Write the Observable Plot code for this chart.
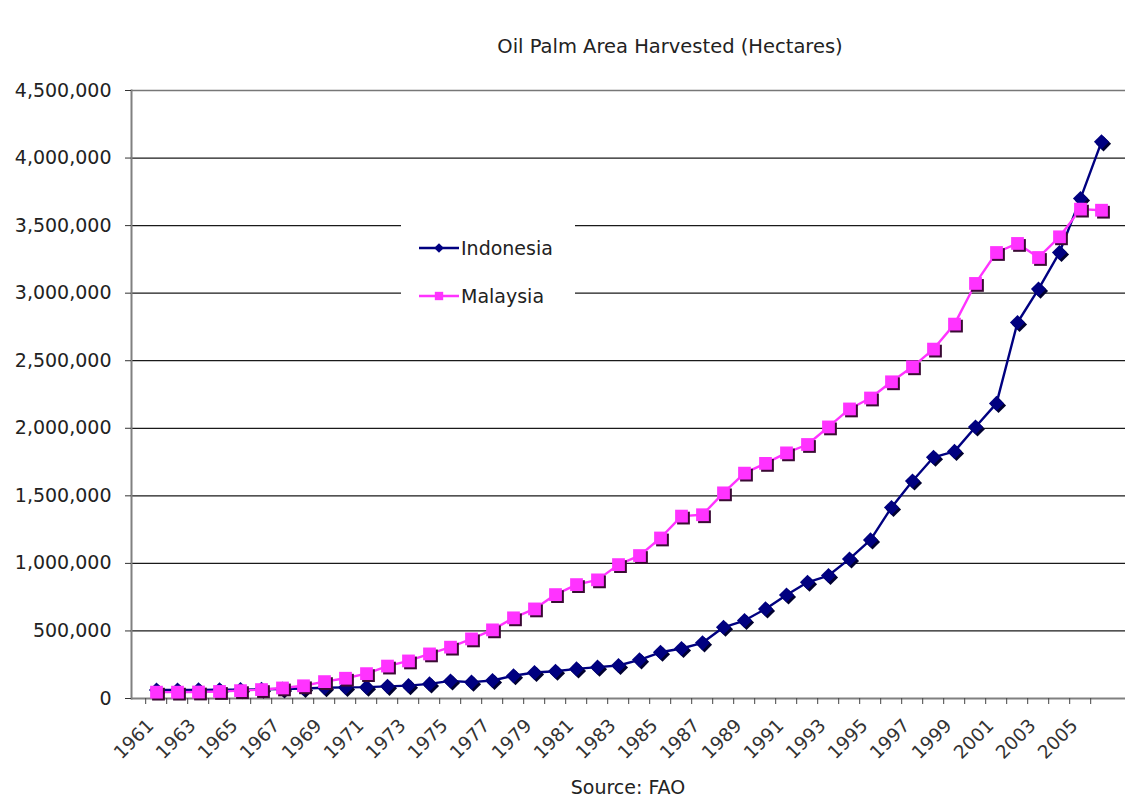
<!DOCTYPE html>
<html>
<head>
<meta charset="utf-8">
<script src="https://cdn.jsdelivr.net/npm/d3@7"></script>
<script src="https://cdn.jsdelivr.net/npm/@observablehq/plot@0.6"></script>
<style>
  body { margin: 0; background: #fff; font-family: "DejaVu Sans", Verdana, sans-serif; color: #222; }
  #page { position: relative; width: 1125px; height: 799px; overflow: hidden; }
  #title { box-sizing: border-box; width: 1125px; height: 70px; padding: 35px 0 0 215px; line-height: 24px; font-size: 19.5px; text-align: center; }
  #caption { box-sizing: border-box; width: 1125px; margin-top: 5px; padding-left: 131px; line-height: 24px; font-size: 19px; text-align: center; }
  #legend { position: absolute; left: 401px; top: 214px; width: 174px; height: 89px; background: #fff; font-size: 19px; }
  #legend .row { position: absolute; left: 18px; height: 24px; display: flex; align-items: center; }
  #legend svg { display: block; margin-right: 2px; }
</style>
</head>
<body>
<div id="page">
  <div id="title">Oil Palm Area Harvested (Hectares)</div>
  <div id="chart"></div>
  <div id="caption">Source: FAO</div>
  <div id="legend"></div>
</div>
<script>
// Oil palm area harvested, hectares per year
const years = [1961, 1962, 1963, 1964, 1965, 1966, 1967, 1968, 1969, 1970,
  1971, 1972, 1973, 1974, 1975, 1976, 1977, 1978, 1979, 1980,
  1981, 1982, 1983, 1984, 1985, 1986, 1987, 1988, 1989, 1990,
  1991, 1992, 1993, 1994, 1995, 1996, 1997, 1998, 1999, 2000,
  2001, 2002, 2003, 2004, 2005, 2006];

const indonesia = [63000, 63000, 64000, 65000, 66000, 68000, 70000, 74000, 80000, 82000,
  84000, 90000, 95000, 108000, 130000, 121000, 133000, 168000, 192000, 202000,
  219000, 232000, 244000, 286000, 342000, 370000, 412000, 527000, 577000, 663000,
  766000, 860000, 910000, 1033000, 1174000, 1414000, 1610000, 1785000, 1829000, 2010000,
  2184000, 2783000, 3030000, 3301000, 3700000, 4120000];

const malaysia = [47000, 47000, 48000, 52000, 58000, 66000, 78000, 94000, 125000, 150000,
  184000, 240000, 278000, 330000, 380000, 441000, 508000, 597000, 663000, 769000,
  843000, 878000, 991000, 1058000, 1188000, 1350000, 1360000, 1522000, 1668000, 1740000,
  1818000, 1880000, 2010000, 2143000, 2224000, 2344000, 2455000, 2586000, 2771000, 3072000,
  3301000, 3368000, 3264000, 3417000, 3622000, 3614000];

const yTicks = [0, 500000, 1000000, 1500000, 2000000, 2500000, 3000000, 3500000, 4000000, 4500000];
const labelYears = years.filter((y, i) => i % 2 === 0);

const series = [
  {name: "Indonesia", values: indonesia, color: "#000080", shadow: "#000030", symbol: "diamond2", r: 6.8},
  {name: "Malaysia", values: malaysia, color: "#ff33ff", shadow: "#3a0a34", symbol: "square", r: 7.2}
];

const rows = name => {
  const s = series.find(d => d.name === name);
  return years.map((year, i) => ({year, value: s.values[i]}));
};

const width = 1125, marginLeft = 131, marginRight = 0;
const step = (width - marginLeft - marginRight) / years.length;

const marks = [
  // horizontal gridlines
  Plot.ruleY(yTicks.slice(1, -1), {stroke: "#1a1a1a", strokeWidth: 1.3}),
  Plot.ruleY(yTicks.slice(-1), {stroke: "#777", strokeWidth: 1.6}),
  // axis lines
  Plot.ruleY([0], {stroke: "#808080", strokeWidth: 2}),
  Plot.frame({anchor: "left", stroke: "#808080", strokeWidth: 2}),
  Plot.axisY({ticks: yTicks, tickFormat: d3.format(","), tickSize: 6, tickPadding: 14, stroke: "#333", fill: "#222", label: null}),
  // category boundary ticks
  Plot.axisX({ticks: years, tickSize: 6, tickFormat: () => "", dx: -step / 2, stroke: "#444", label: null}),
  // year labels, every other category
  Plot.text(labelYears, {x: d => d, text: d => String(d), frameAnchor: "bottom", rotate: -45, textAnchor: "end", lineAnchor: "top", dx: -11, dy: 19, fill: "#333", fontSize: 18.5})
];

for (const s of series) {
  const data = rows(s.name);
  marks.push(
    Plot.line(data, {x: "year", y: "value", stroke: s.color, strokeWidth: 2.4}),
    Plot.dot(data, {x: "year", y: "value", symbol: s.symbol, r: s.r, fill: s.shadow, dx: 2, dy: 2}),
    Plot.dot(data, {x: "year", y: "value", symbol: s.symbol, r: s.r, fill: s.color})
  );
}

const chart = Plot.plot({
  width, height: 700,
  marginLeft, marginRight, marginTop: 20, marginBottom: 72,
  style: {fontFamily: "\"DejaVu Sans\", Verdana, sans-serif", fontSize: "19px", color: "#222", overflow: "visible", background: "#fff"},
  x: {type: "point", domain: years, padding: 0.5, axis: null},
  y: {domain: [0, 4500000], axis: null},
  marks
});
document.getElementById("chart").append(chart);

// legend: line with marker swatch per series
const legend = document.getElementById("legend");
series.forEach((s, i) => {
  const row = document.createElement("div");
  row.className = "row";
  row.style.top = (22 + i * 48) + "px";
  const ns = "http://www.w3.org/2000/svg";
  const svg = document.createElementNS(ns, "svg");
  svg.setAttribute("width", 40);
  svg.setAttribute("height", 16);
  const line = document.createElementNS(ns, "line");
  line.setAttribute("x1", 0); line.setAttribute("x2", 40);
  line.setAttribute("y1", 8); line.setAttribute("y2", 8);
  line.setAttribute("stroke", s.color); line.setAttribute("stroke-width", 2.4);
  svg.append(line);
  const sym = d3.symbol(s.symbol === "square" ? d3.symbolSquare : d3.symbolDiamond2, s.symbol === "square" ? 70 : 60)();
  const path = document.createElementNS(ns, "path");
  path.setAttribute("d", sym);
  path.setAttribute("transform", "translate(20,8)");
  path.setAttribute("fill", s.color);
  svg.append(path);
  row.append(svg);
  const label = document.createElement("span");
  label.textContent = s.name;
  row.append(label);
  legend.append(row);
});
</script>
</body>
</html>
